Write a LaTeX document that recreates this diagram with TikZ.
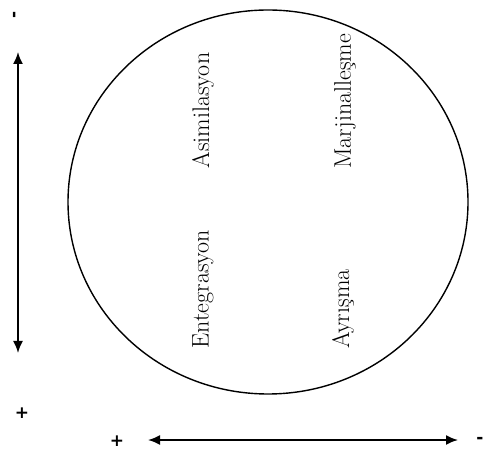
\documentclass[tikz,border=0pt]{standalone}
\usepackage{amsmath}
\usepackage{fontspec}
\newfontfamily\signfont{DejaVu Sans}
\usepackage{tikz}
\usetikzlibrary{calc, arrows.meta}
\usepackage{xcolor}

\begin{document}
\begin{tikzpicture}[x=1pt, y=1pt,
    axis/.style={line width=1.8pt, {Latex[length=12pt,width=10pt]}-{Latex[length=12pt,width=10pt]}},
    term/.style={rotate=90, anchor=west, font=\fontsize{24}{29}\selectfont},
    sign/.style={inner sep=0pt, font=\signfont\bfseries\fontsize{17}{19}\selectfont}]

    % 1. Fix the frame of the picture
    \useasboundingbox (0,0) rectangle (484,455);

    % 2. Centre of the big ellipse
    \coordinate (O) at (268, 253);
    \draw[line width=1.4pt] (O) ellipse (200 and 192);

    % 3. The four terms inside, written upwards
    \node[term] (asim) at (203, 283) {Asimilasyon};
    \node[term] (marj) at (345, 283) {Marjinalleşme};
    \node[term] (enteg) at (203, 103) {Entegrasyon};
    \node[term] (ayr) at (343, 103) {Ayrışma};

    % 4. Vertical axis with its signs
    \coordinate (vtop) at (18, 403);
    \coordinate (vbot) at (18, 102);
    \draw[axis] (vbot) -- (vtop);
    \node[sign, rotate=90] (vminus) at (16, 440) {-};
    \node[sign] (vplus) at (22, 42) {+};

    % 5. Horizontal axis with its signs
    \coordinate (hleft) at (148, 15);
    \coordinate (hright) at (458, 15);
    \draw[axis] (hleft) -- (hright);
    \node[sign] (hplus) at (117, 14) {+};
    \node[sign] (hminus) at (480, 15) {-};

\end{tikzpicture}
\end{document}
